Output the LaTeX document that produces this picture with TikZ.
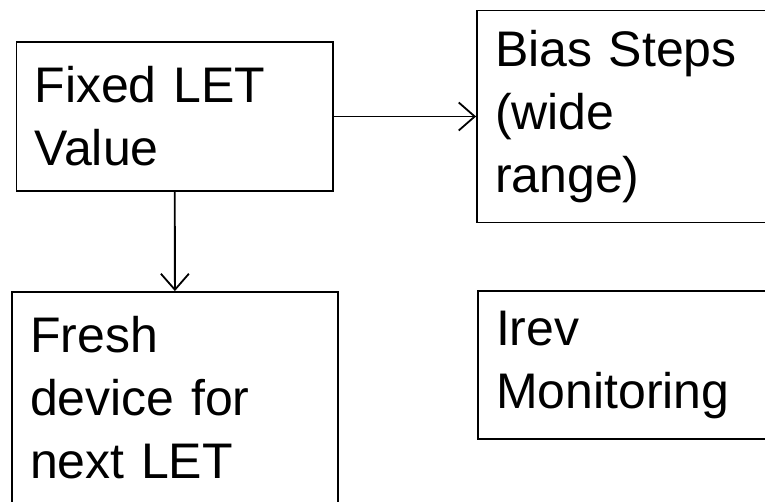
\documentclass[tikz,border=0pt]{standalone}
\usepackage{fontspec}
\setmainfont{Liberation Sans}
\usepackage{tikz}
\usetikzlibrary{arrows.meta, positioning}

\begin{document}
\begin{tikzpicture}[
        x=0.5pt, y=-0.5pt,
        blk/.style={draw=black, line width=0.9pt, align=left,
                    inner xsep=9pt, inner ysep=0pt,
                    font=\fontsize{25}{31.5}\selectfont},
        arr/.style={-{Straight Barb[length=8pt, width=14pt]}, line width=0.9pt},
      ]
        \useasboundingbox (0,0) rectangle (765,502);

        \node[blk, text width=140.25pt, minimum height=74.5pt] (fixed) at (174.75,116.5)
          {Fixed LET\\Value};
        \node[blk, text width=138.5pt, minimum height=106pt] (bias) at (633.5,116.5)
          {Bias Steps\\(wide\\range)};
        \node[blk, text width=145pt, minimum height=106pt] (fresh) at (175,398)
          {Fresh\\device for\\next LET};
        \node[blk, text width=138pt, minimum height=74pt] (irev) at (634,365)
          {Irev\\Monitoring};

        % flow
        \draw[arr] (fixed) -- (bias);
        \draw[arr] (fixed) -- (fresh);
      \end{tikzpicture}
\end{document}
